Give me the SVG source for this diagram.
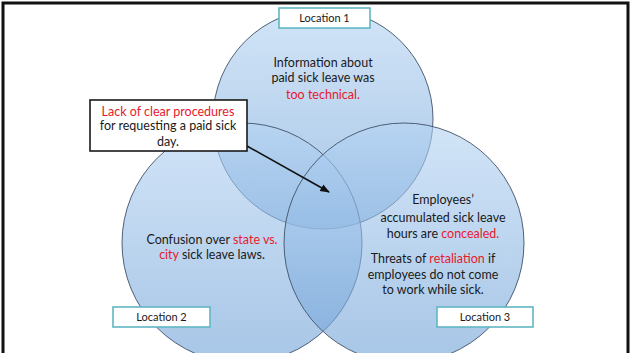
<svg xmlns="http://www.w3.org/2000/svg" width="631" height="353" viewBox="0 0 631 353">
<defs>
<linearGradient id="g" x1="0" y1="0" x2="0" y2="1">
<stop offset="0" stop-color="#b4d3f2"/>
<stop offset="1" stop-color="#6c9fd6"/>
</linearGradient>
<marker id="ah" viewBox="0 0 10 10" refX="9" refY="5" markerWidth="6" markerHeight="6" orient="auto">
<path d="M0,1 L10,5 L0,9 z" fill="#111"/>
</marker>
<style>
.c{fill:url(#g);fill-opacity:0.6;stroke:#3f5068;stroke-width:0.9}
.lb{fill:#fff;stroke:#5fb6c4;stroke-width:1.6}
.t{font-family:Lato,"Liberation Sans",sans-serif;font-size:12.5px;fill:#1a1a1a;text-anchor:middle}
.s{font-size:11px}
.r{fill:#e8192c}
</style>
</defs>
<rect x="0" y="0" width="631" height="353" fill="#fff"/>
<path d="M3,353 V3 H628 V353" fill="none" stroke="#111" stroke-width="3"/>
<g id="circle-top"><circle class="c" cx="323" cy="119" r="110"/></g>
<g id="circle-left"><circle class="c" cx="242" cy="243" r="120"/></g>
<g id="circle-right"><circle class="c" cx="404" cy="243" r="120"/></g>
<g id="text-top">
<text class="t" x="323" y="67">Information about</text>
<text class="t" x="323" y="82">paid sick leave was</text>
<text class="t" x="323" y="99"><tspan class="r">too technical.</tspan></text>
</g>
<g id="text-left">
<text class="t" x="212" y="244">Confusion over <tspan class="r">state vs.</tspan></text>
<text class="t" x="212" y="259"><tspan class="r">city</tspan> sick leave laws.</text>
</g>
<g id="text-right">
<text class="t" x="443" y="204">Employees’</text>
<text class="t" x="443" y="222">accumulated sick leave</text>
<text class="t" x="443" y="238">hours are <tspan class="r">concealed.</tspan></text>
<text class="t" x="433" y="263">Threats of <tspan class="r">retaliation</tspan> if</text>
<text class="t" x="433" y="279">employees do not come</text>
<text class="t" x="433" y="294">to work while sick.</text>
</g>
<g id="connectors">
<line x1="247" y1="146" x2="329" y2="192" stroke="#111" stroke-width="1.6" marker-end="url(#ah)"/>
</g>
<g id="callout">
<rect x="90" y="100" width="157" height="51" fill="#fff" stroke="#1a1a1a" stroke-width="1.6"/>
<text class="t" x="168" y="116"><tspan class="r">Lack of clear procedures</tspan></text>
<text class="t" x="168" y="130">for requesting a paid sick</text>
<text class="t" x="168" y="146">day.</text>
</g>
<g id="location-1">
<rect class="lb" x="279" y="8" width="91" height="20"/>
<text class="t s" x="324.5" y="22">Location 1</text>
</g>
<g id="location-2">
<rect class="lb" x="113" y="307" width="97" height="20"/>
<text class="t s" x="161.5" y="321">Location 2</text>
</g>
<g id="location-3">
<rect class="lb" x="437" y="307" width="96" height="20"/>
<text class="t s" x="485" y="321">Location 3</text>
</g>
</svg>
